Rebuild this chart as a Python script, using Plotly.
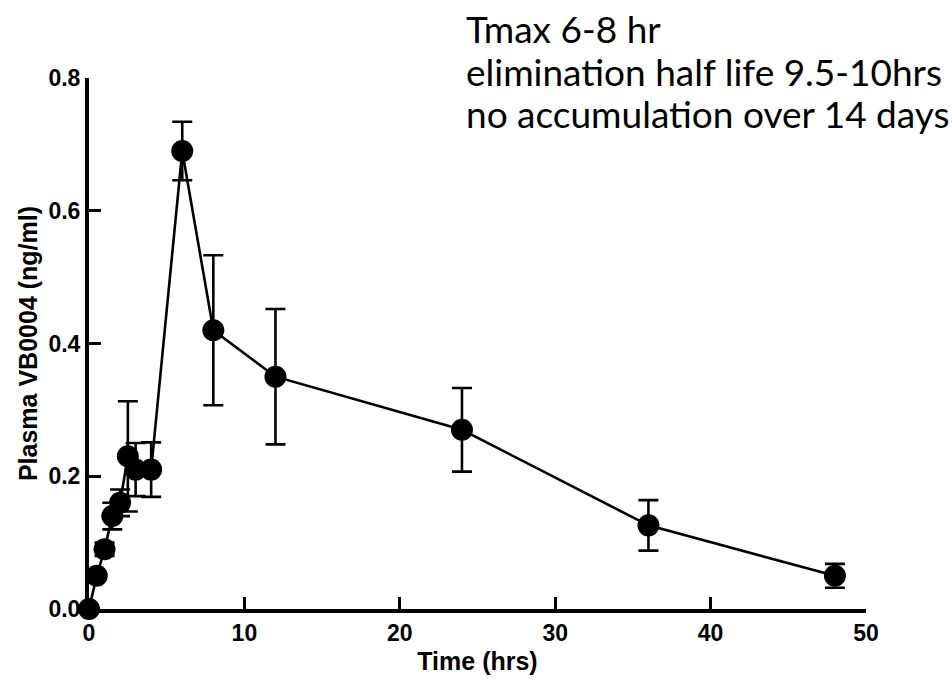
import plotly.graph_objects as go

time_hrs = [0, 0.5, 1, 1.5, 2, 2.5, 3, 4, 6, 8, 12, 24, 36, 48]
plasma = [0.0, 0.05, 0.09, 0.14, 0.16, 0.23, 0.21, 0.21, 0.69, 0.42, 0.35, 0.27, 0.126, 0.05]
err = [0.0, 0.0, 0.01, 0.02, 0.02, 0.083, 0.04, 0.041, 0.044, 0.113, 0.102, 0.063, 0.038, 0.018]

x_ticks = [0, 10, 20, 30, 40, 50]
y_ticks = [0.0, 0.2, 0.4, 0.6, 0.8]
y_tick_text = ["0.0", "0.2", "0.4", "0.6", "0.8"]

notes = ["Tmax 6-8 hr", "elimination half life 9.5-10hrs", "no accumulation over 14 days"]

L, R, T, B = 89, 86, 78, 72
W, H = 952, 681
pw, ph = W - L - R, H - T - B

fig = go.Figure()
fig.add_trace(go.Scatter(
    x=time_hrs, y=plasma, mode="lines+markers",
    line=dict(color="black", width=2.6),
    marker=dict(color="black", size=22),
    error_y=dict(type="data", array=err, visible=True, color="black", thickness=2.6, width=10),
    cliponaxis=False, showlegend=False,
))

FAM = "Liberation Sans, Arial"
axis_font = dict(family=FAM, size=23, color="black", weight="bold")

fig.update_layout(
    width=W, height=H,
    margin=dict(l=L, r=R, t=T, b=B, autoexpand=False),
    plot_bgcolor="white", paper_bgcolor="white",
    xaxis=dict(range=[0, 50], tickvals=x_ticks, ticks="inside", ticklen=12, tickwidth=3,
               tickcolor="black", showline=True, linecolor="black", linewidth=4,
               showgrid=False, zeroline=False, tickfont=axis_font, automargin=False,
               title=dict(text="Time (hrs)", font=dict(family=FAM, size=25, color="black", weight="bold"), standoff=9)),
    yaxis=dict(range=[0, 0.8], tickvals=y_ticks, ticktext=y_tick_text, ticks="inside", ticklen=12,
               tickwidth=3, tickcolor="black", showline=True, linecolor="black", linewidth=4,
               showgrid=False, zeroline=False, tickfont=axis_font, automargin=False,
               title=dict(text="Plasma VB0004 (ng/ml)", font=dict(family=FAM, size=25, color="black", weight="bold"), standoff=5)),
)

line_centers = [29, 71, 113]
for txt, yc in zip(notes, line_centers):
    fig.add_annotation(
        text=txt, xref="paper", yref="paper",
        x=(464 - L) / pw, y=1 + (T - yc) / ph,
        xanchor="left", yanchor="middle", showarrow=False,
        font=dict(family="Lato", size=37, color="black"),
    )

fig.write_html("out.html")
